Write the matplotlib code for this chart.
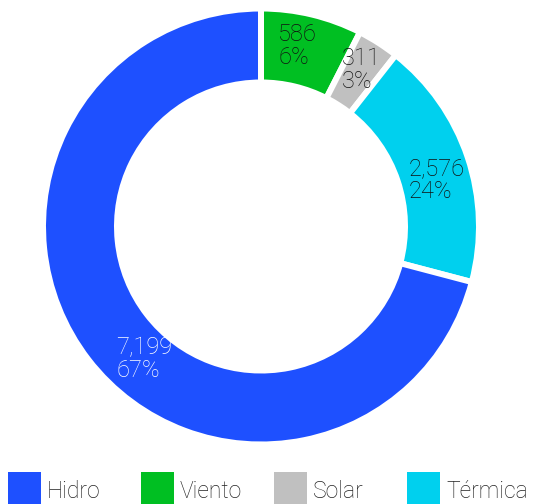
import matplotlib
matplotlib.use("Agg")
import matplotlib.pyplot as plt
from matplotlib.patches import Rectangle
from matplotlib import font_manager

# ---- data ----
categories = ["Viento", "Solar", "Térmica", "Hidro"]
values = [586, 311, 2576, 7199]            # printed values
percent_labels = ["6%", "3%", "24%", "67%"]  # printed shares
arc_share = [7.5, 3.1, 18.5, 70.9]          # ring arc sizes as drawn (%)
colors = {"Hidro": "#1e50ff", "Viento": "#00bf22",
          "Solar": "#c0c0c0", "Térmica": "#00d0ee"}
legend_order = ["Hidro", "Viento", "Solar", "Térmica"]

# font choice
avail = {f.name for f in font_manager.fontManager.ttflist}
fam = [f for f in ["Roboto", "Lato", "Open Sans", "DejaVu Sans"] if f in avail]
plt.rcParams["font.family"] = fam

W, H = 542, 504
fig = plt.figure(figsize=(W / 100, H / 100), dpi=100)

cx, cy, R, r_in = 261, 226.5, 215, 147
ax = fig.add_axes([(cx - R) / W, (H - cy - R) / H, 2 * R / W, 2 * R / H])
lw_px = 6
ax.pie(arc_share, startangle=90, counterclock=False,
       colors=[colors[c] for c in categories],
       radius=1 + (lw_px / 2) / R,
       wedgeprops=dict(width=(R - r_in + lw_px) / R, edgecolor="white",
                       linewidth=lw_px * 0.72))
ax.set_xlim(-1, 1)
ax.set_ylim(-1, 1)
ax.set_aspect("auto")
ax.axis("off")

# labels (top-left of text block, pixel coordinates)
label_pos = {"Viento": (278, 23), "Solar": (342, 47),
             "Térmica": (409, 157), "Hidro": (116, 336)}
label_col = {"Viento": "#111111", "Solar": "#111111",
             "Térmica": "#111111", "Hidro": "white"}
for c, v, p in zip(categories, values, percent_labels):
    x, y = label_pos[c]
    fig.text(x / W, 1 - y / H, f"{v:,}\n{p}", ha="left", va="top",
             fontsize=17, fontweight="light", color=label_col[c],
             linespacing=1.0)

# legend
sq_x = [8, 141, 274, 407]
for c, x in zip(legend_order, sq_x):
    fig.add_artist(Rectangle((x / W, 0), 33 / W, 32 / H,
                             transform=fig.transFigure,
                             facecolor=colors[c], edgecolor="none"))
    fig.text((x + 39) / W, 0.5 / H, c, ha="left", va="bottom",
             fontsize=16.5, fontweight="light", color="#222222")

fig.savefig("out.png", dpi=100)
